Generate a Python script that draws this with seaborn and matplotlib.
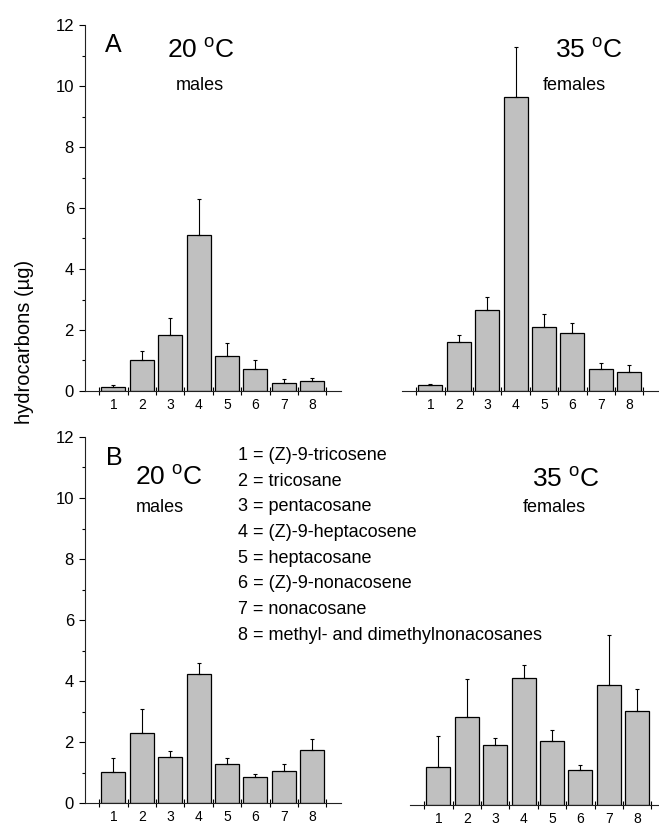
import numpy as np
import pandas as pd
import matplotlib
matplotlib.use('Agg')
from matplotlib import pyplot as plt
from matplotlib.ticker import MultipleLocator, FixedLocator
import seaborn as sns

# peak numbers and compound names
peaks = ['1', '2', '3', '4', '5', '6', '7', '8']
compounds = ['(Z)-9-tricosene', 'tricosane', 'pentacosane', '(Z)-9-heptacosene',
             'heptacosane', '(Z)-9-nonacosene', 'nonacosane',
             'methyl- and dimethylnonacosanes']

# panel A (means and upper error)
a_males = [0.13, 1.03, 1.85, 5.10, 1.16, 0.71, 0.27, 0.34]
a_males_err = [0.08, 0.29, 0.55, 1.18, 0.43, 0.29, 0.12, 0.08]
a_females = [0.19, 1.62, 2.65, 9.64, 2.10, 1.89, 0.71, 0.63]
a_females_err = [0.05, 0.21, 0.42, 1.64, 0.44, 0.34, 0.20, 0.21]

# panel B
b_males = [1.03, 2.31, 1.52, 4.22, 1.29, 0.85, 1.06, 1.73]
b_males_err = [0.44, 0.78, 0.19, 0.36, 0.17, 0.09, 0.22, 0.36]
b_females = [1.25, 2.90, 1.98, 4.17, 2.10, 1.15, 3.93, 3.07]
b_females_err = [1.00, 1.22, 0.22, 0.43, 0.35, 0.15, 1.63, 0.74]

W, H = 659, 825
unit = 28.4  # px per bar slot
ax_w = 9 * unit
ax_h = 366

sns.set_style('ticks')
plt.rcParams['font.family'] = ['Liberation Sans', 'DejaVu Sans']
plt.rcParams['mathtext.default'] = 'regular'
for key in ['text.color', 'xtick.color', 'ytick.color', 'axes.labelcolor', 'axes.edgecolor']:
    plt.rcParams[key] = 'black'

fig = plt.figure(figsize=(W / 100, H / 100), dpi=100)


def panel(x0, y0, values, errs, show_y):
    ax = fig.add_axes([x0 / W, 1 - y0 / H, ax_w / W, ax_h / H])
    df = pd.DataFrame({'peak': peaks, 'amount': values})
    sns.barplot(data=df, x='peak', y='amount', order=peaks, color='#C0C0C0',
                saturation=1, edgecolor='black', linewidth=0.9, width=0.85,
                errorbar=None, ax=ax)
    ax.errorbar(np.arange(len(peaks)), values, yerr=[np.zeros(len(peaks)), errs],
                fmt='none', ecolor='black', elinewidth=0.8, capsize=1.6,
                capthick=0.8, zorder=3)
    ax.set_xlim(-1, 8)
    ax.set_ylim(0, 12)
    ax.set_xlabel('')
    ax.set_ylabel('')
    ax.set_xticks(range(len(peaks)))
    ax.set_xticklabels(peaks, fontsize=10)
    ax.xaxis.set_minor_locator(FixedLocator(np.arange(-0.5, 8, 1)))
    ax.tick_params(axis='x', which='major', length=0, pad=5)
    ax.tick_params(axis='x', which='minor', direction='inout', length=6, width=0.8)
    sns.despine(ax=ax, left=not show_y)
    for s in ax.spines.values():
        s.set_linewidth(0.8)
        s.set_color('#222222')
    if show_y:
        ax.yaxis.set_major_locator(MultipleLocator(2))
        ax.yaxis.set_minor_locator(MultipleLocator(1))
        ax.tick_params(axis='y', which='major', direction='out', length=4,
                       width=0.8, labelsize=12, pad=4)
        ax.tick_params(axis='y', which='minor', direction='out', length=2, width=0.8)
    else:
        ax.set_yticks([])
    return ax


panel(85, 391, a_males, a_males_err, True)
panel(402, 391, a_females, a_females_err, False)
panel(85, 803, b_males, b_males_err, True)
panel(410, 805, b_females, b_females_err, False)


def put(x, y, s, size):
    fig.text(x / W, 1 - y / H, s, fontsize=size, ha='left', va='baseline')


deg20 = '20 $^{o}$C'
deg35 = '35 $^{o}$C'

# panel A labels
put(105, 52, 'A', 18)
put(167, 58, deg20, 19)
put(176, 90, 'males', 13)
put(555, 58, deg35, 19)
put(543, 90, 'females', 13)

# panel B labels
put(106, 465, 'B', 18)
put(135, 485, deg20, 19)
put(136, 512, 'males', 13)
put(532, 487, deg35, 19)
put(523, 512, 'females', 13)

for i, name in enumerate(compounds):
    put(238, 460 + 25.7 * i, '%s = %s' % (peaks[i], name), 13)

fig.text(25 / W, 1 - 342 / H, 'hydrocarbons (\u00b5g)', rotation=90,
         fontsize=14.5, ha='center', va='center')

fig.savefig('out.png', dpi=100)
